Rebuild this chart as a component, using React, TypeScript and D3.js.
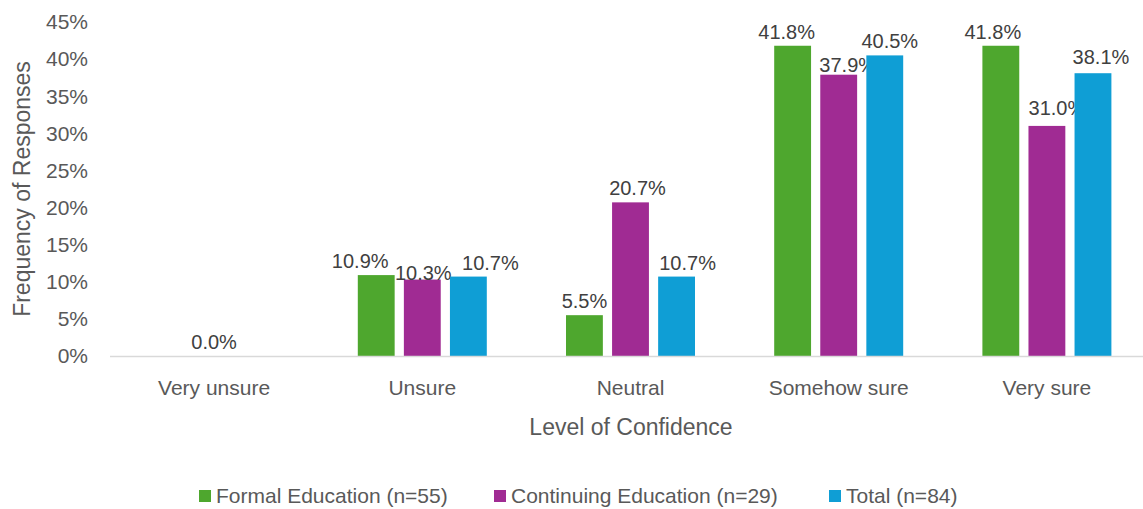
import React from "react";
import * as d3 from "d3";

const categories = ["Very unsure", "Unsure", "Neutral", "Somehow sure", "Very sure"];
const seriesNames = ["Formal Education (n=55)", "Continuing Education (n=29)", "Total (n=84)"];
const formalValues = [0, 10.9, 5.5, 41.8, 41.8];
const continuingValues = [0, 10.3, 20.7, 37.9, 31.0];
const totalValues = [0, 10.7, 10.7, 40.5, 38.1];
const yTicks = [0, 5, 10, 15, 20, 25, 30, 35, 40, 45];
const colors = ["#4EA72E", "#A02B93", "#0F9ED5"];

const W = 1143;
const H = 509;
const FONT = "'Liberation Sans', Arial, sans-serif";

// manual label nudges (as in the reference, where labels were moved to avoid collisions)
const labelNudge: Record<string, [number, number]> = {
  "1-0": [-16, 0],
  "1-1": [1, 7],
  "1-2": [22, 0],
  "2-1": [7, 0],
  "2-2": [11, 0],
  "3-0": [-6, 0],
  "3-1": [9, 4],
  "3-2": [5, 0],
  "4-0": [-8, 0],
  "4-1": [10, -4],
  "4-2": [8, -2],
};

export default function App() {
  const series = [formalValues, continuingValues, totalValues];
  const x0 = d3.scaleBand<string>().domain(categories).range([110, 1151]).paddingInner(0).paddingOuter(0);
  const x1 = d3.scaleBand<number>().domain([0, 1, 2]).range([0, 129]).paddingInner(0.2);
  const y = d3.scaleLinear().domain([0, 45]).range([356, 22]);
  const groupOffset = (x0.bandwidth() - 129) / 2;

  const legendX = [199, 494, 829];

  return (
    <svg width={W} height={H} style={{ position: "absolute", left: 0, top: 0, background: "#fff" }} fontFamily={FONT}>
      {yTicks.map((t) => (
        <text key={t} x={88} y={y(t)} dy="0.35em" textAnchor="end" fontSize={21} fill="#595959">
          {t}%
        </text>
      ))}
      {categories.map((c, ci) => (
        <g key={c} transform={`translate(${(x0(c) as number) + groupOffset},0)`}>
          {series.map((vals, si) => {
            const v = vals[ci];
            const bx = x1(si) as number;
            const bw = x1.bandwidth();
            const [ndx, ndy] = labelNudge[`${ci}-${si}`] || [0, 0];
            return (
              <g key={si}>
                {v > 0 && (
                  <rect x={bx} y={y(v)} width={bw} height={y(0) - y(v)} fill={colors[si]} />
                )}
                {(v > 0 || si === 1) && (
                  <text x={bx + bw / 2 + ndx} y={y(v) - 7 + ndy} textAnchor="middle" fontSize={20} fill="#404040">
                    {v.toFixed(1)}%
                  </text>
                )}
              </g>
            );
          })}
        </g>
      ))}
      <line x1={110} x2={W} y1={y(0) + 0.5} y2={y(0) + 0.5} stroke="#D9D9D9" strokeWidth={1.5} />
      {categories.map((c) => (
        <text key={c} x={(x0(c) as number) + x0.bandwidth() / 2} y={388} dy="0.35em" textAnchor="middle" fontSize={21} fill="#595959">
          {c}
        </text>
      ))}
      <text x={631} y={427} dy="0.35em" textAnchor="middle" fontSize={23} fill="#595959">
        Level of Confidence
      </text>
      <text transform={`translate(22,${(y(0) + y(45)) / 2}) rotate(-90)`} dy="0.35em" textAnchor="middle" fontSize={23} fill="#595959">
        Frequency of Responses
      </text>
      {seriesNames.map((n, i) => (
        <g key={n} transform={`translate(${legendX[i]},496)`}>
          <rect x={0} y={-6} width={12} height={12} fill={colors[i]} />
          <text x={17} y={0} dy="0.35em" fontSize={21} fill="#595959">
            {n}
          </text>
        </g>
      ))}
    </svg>
  );
}
